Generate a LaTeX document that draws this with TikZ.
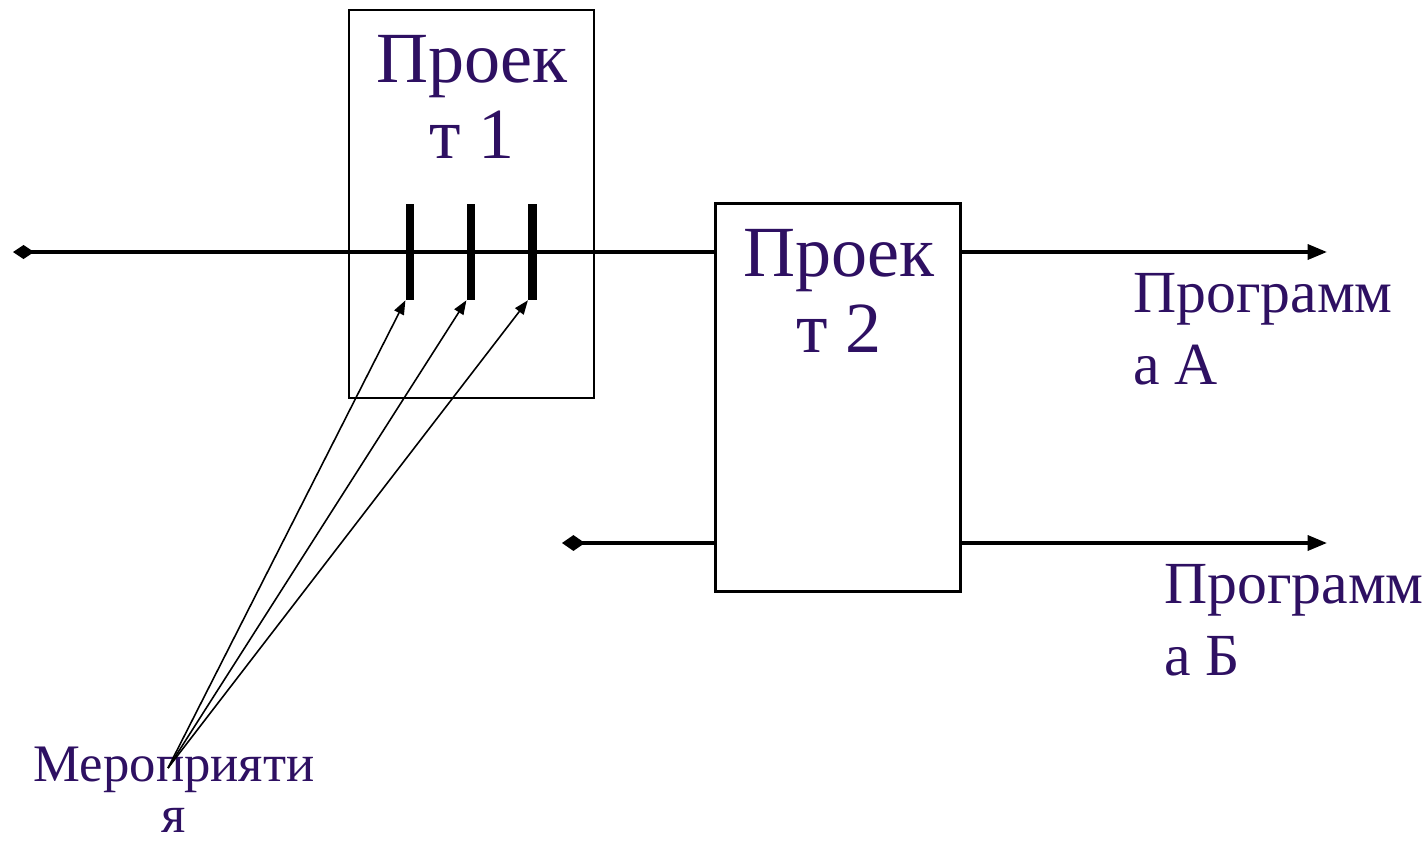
\documentclass[tikz,border=0pt]{standalone}
\usepackage{fontspec}
\setmainfont{Liberation Serif}
\usetikzlibrary{arrows.meta}
\definecolor{txtviolet}{RGB}{46,16,98}

\begin{document}
\begin{tikzpicture}[x=0.02cm, y=-0.02cm,
  projbox/.style={draw, line width=1.6pt, inner sep=0pt, outer sep=0pt, minimum width=4.9cm, minimum height=7.76cm},
  bigtxt/.style={text=txtviolet, inner sep=0pt, font=\fontsize{41}{43}\selectfont},
  progtxt/.style={text=txtviolet, inner sep=0pt, align=left, anchor=north west, font=\fontsize{34}{41}\selectfont},
  bar/.style={fill=black, inner sep=0pt, minimum width=0.17cm, minimum height=1.92cm},
  flow/.style={line width=2pt},
  evarrow/.style={line width=0.9pt, -{Triangle[length=8pt,width=6pt]}}]
\useasboundingbox (0,0) rectangle (1426,842);
\node[projbox] (proj1) at (471.5,204) {};
\node[projbox] (proj2) at (838,397.5) {};
\node[bigtxt, align=center, anchor=north] (proj1txt) at (472,35) {Проек\\т 1};
\node[bigtxt, align=center, anchor=north] (proj2txt) at (839,229) {Проек\\т 2};
\coordinate (in1) at (13,252);
\coordinate (in2) at (562,543);
\coordinate (outA) at (1327,252);
\coordinate (outB) at (1327,543);
\draw[flow, {Diamond[length=12pt,width=8pt]}-] (in1) -- (proj2.west |- in1);
\draw[flow, -{Triangle[length=11pt,width=8.5pt]}] (proj2.east |- in1) -- (outA);
\draw[flow, {Diamond[length=13pt,width=9pt]}-] (in2) -- (proj2.west |- in2);
\draw[flow, -{Triangle[length=11pt,width=8.5pt]}] (proj2.east |- in2) -- (outB);
\node[bar] (b1) at (410,252) {};
\node[bar] (b2) at (471,252) {};
\node[bar] (b3) at (532.5,252) {};
\node[progtxt] (progA) at (1133,273) {Программ\\а А};
\node[progtxt] (progB) at (1164,564) {Программ\\а Б};
\node[text=txtviolet, inner sep=0pt, align=center, anchor=north, font=\fontsize{30}{29}\selectfont] (events) at (174,747) {Мероприяти\\я};
\coordinate (evpt) at (168,768);
\draw[evarrow] (evpt) -- (b1.south west);
\draw[evarrow] (evpt) -- (b2.south west);
\draw[evarrow] (evpt) -- (b3.south west);
\end{tikzpicture}
\end{document}
